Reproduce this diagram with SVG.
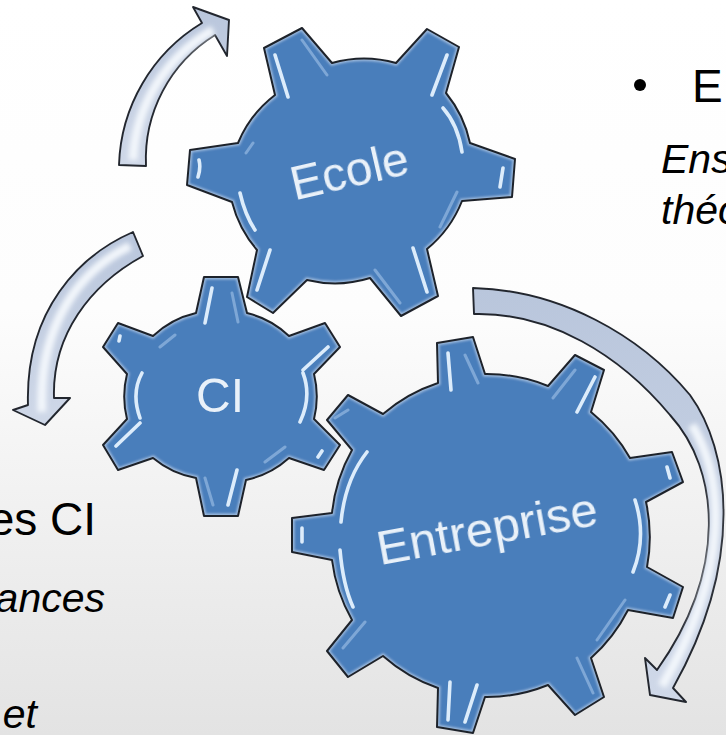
<svg xmlns="http://www.w3.org/2000/svg" xmlns:xlink="http://www.w3.org/1999/xlink" width="726" height="735" viewBox="0 0 726 735">
<style>
.gear{fill:#4a7ebb}
.rim{fill:none;stroke:#9fbbdd;stroke-width:5}
.edge{fill:none;stroke:#1f232b;stroke-width:2;stroke-linejoin:round}
.hl{fill:none;stroke:#dcecfb;stroke-width:3.6;stroke-linecap:round}
.dim{fill:none;stroke:#7ea7d6;stroke-width:3;stroke-linecap:round}
.gt{font-family:"Liberation Sans",Arial,sans-serif;font-size:48px;fill:#e9f1f9;text-anchor:middle}
.bt{font-family:"Liberation Sans",Arial,sans-serif;font-size:46px;fill:#000}
.it{font-family:"Liberation Sans",Arial,sans-serif;font-size:41px;font-style:italic;fill:#000}
.arrow{stroke:#23272f;stroke-width:1.9;stroke-linejoin:round}
.glow{fill:none;stroke:#f2f6fb;stroke-width:9;stroke-linecap:butt}
</style>
<defs>
<linearGradient id="bg" x1="0" y1="0" x2="0" y2="1">
<stop offset="0" stop-color="#ffffff"/><stop offset="0.42" stop-color="#fdfdfd"/><stop offset="1" stop-color="#e3e3e3"/>
</linearGradient>
<linearGradient id="arr" x1="0" y1="0" x2="0" y2="1">
<stop offset="0" stop-color="#b9c6dc"/><stop offset="1" stop-color="#cfd8e8"/>
</linearGradient>
<filter id="b1" x="-5%" y="-5%" width="110%" height="110%"><feGaussianBlur stdDeviation="0.6"/></filter>
<filter id="b2" x="-10%" y="-10%" width="120%" height="120%"><feGaussianBlur stdDeviation="1.2"/></filter>
<filter id="b3" x="-30%" y="-30%" width="160%" height="160%"><feGaussianBlur stdDeviation="2.4"/></filter>
<filter id="bt" x="-5%" y="-20%" width="110%" height="140%"><feGaussianBlur stdDeviation="0.35"/></filter>
<path id="pE" d="M264 48L302 28L332 63A118 118 0 0 1 396 63L427 29L459 47L446 93A118 118 0 0 1 470 143L515 159L512 197L462 201A118 118 0 0 1 427 249L438 296L401 316L370 278A118 118 0 0 1 307 280L273 313L247 297L257 250A118 118 0 0 1 232 202L187 185L190 150L238 143A118 118 0 0 1 275 95Z"/>
<path id="pC" d="M204 277L238 277L247 313A93 93 0 0 1 289 336L325 323L340 347L314 374A93 93 0 0 1 314 419L340 445L324 470L289 458A93 93 0 0 1 246 480L238 516L204 516L196 478A93 93 0 0 1 153 458L118 470L103 445L127 419A93 93 0 0 1 127 374L103 347L118 323L153 336A93 93 0 0 1 196 313Z"/>
<path id="pN" d="M437 343L473 337L485 374A162 162 0 0 1 548 386L575 355L604 370L591 412A162 162 0 0 1 630 458L672 452L683 482L646 502A162 162 0 0 1 647 567L683 587L673 618L628 610A162 162 0 0 1 591 658L604 697L575 715L548 685A162 162 0 0 1 485 697L473 733L437 727L438 688A162 162 0 0 1 383 656L348 677L327 651L352 620A162 162 0 0 1 332 560L292 552L292 518L332 513A162 162 0 0 1 352 450L327 420L348 395L383 414A162 162 0 0 1 438 383Z"/>
<clipPath id="cE"><use xlink:href="#pE"/></clipPath>
<clipPath id="cC"><use xlink:href="#pC"/></clipPath>
<clipPath id="cN"><use xlink:href="#pN"/></clipPath>
</defs>
<rect width="726" height="735" fill="url(#bg)"/>

<g id="connectors">
<g id="arrow-top">
<path class="arrow" fill="url(#arr)" filter="url(#b1)" d="M119 165A172 172 0 0 1 202 23L193 7L229 20L227 56L215 35A146 146 0 0 0 146 166Z"/>
<path class="glow" filter="url(#b3)" d="M133 160A158 158 0 0 1 213 30"/>
</g>
<g id="arrow-left">
<path class="arrow" fill="url(#arr)" filter="url(#b1)" d="M133 232C80 255 25 310 28 405L13 410L45 425L70 398L54 398C52 335 90 285 143 256Z"/>
<path class="glow" filter="url(#b3)" d="M130 246C80 270 38 325 42 412"/>
</g>
<g id="arrow-right">
<path class="arrow" fill="url(#arr)" filter="url(#b1)" d="M473 288C560 290 640 335 690 395C730 450 745 560 673 688L686 702L650 695L645 658L657 670C728 570 720 470 670 415C620 355 550 312 474 314Z"/>
<path class="glow" filter="url(#b3)" d="M692 425C725 480 730 570 662 686" stroke-width="8"/>
</g>
</g>

<g id="node-ecole">
<g filter="url(#b1)">
<use xlink:href="#pE" class="gear"/>
<g clip-path="url(#cE)"><use xlink:href="#pE" class="rim" filter="url(#b2)"/></g>
<use xlink:href="#pE" class="edge"/>
</g>
<g filter="url(#b1)">
<path class="dim" d="M302 40L327 75M375 270L400 303M457 192L440 227M246 153L253 143"/>
<path class="hl" d="M275 55L288 97M199 160Q201 168 198 177M240 193Q245 215 255 230M270 250L257 290M447 55L432 95M443 108Q458 125 462 152M503 168L500 187M413 248L427 292"/>
</g>
<text class="gt" filter="url(#bt)" transform="translate(353 187) rotate(-13)">Ecole</text>
</g>

<g id="node-ci">
<g filter="url(#b1)">
<use xlink:href="#pC" class="gear"/>
<g clip-path="url(#cC)"><use xlink:href="#pC" class="rim" filter="url(#b2)"/></g>
<use xlink:href="#pC" class="edge"/>
</g>
<g filter="url(#b1)">
<path class="dim" d="M232 293L238 322M205 478L213 505M285 447L265 462M160 347L175 335"/>
<path class="hl" d="M212 288L205 323M142 373Q131 393 140 418M140 423L116 446M237 470L228 505M328 347L303 370M303 373Q312 397 300 422M120 336L119 341M322 451L318 457"/>
</g>
<text class="gt" filter="url(#bt)" x="220" y="412">CI</text>
</g>

<g id="node-entreprise">
<g filter="url(#b1)">
<use xlink:href="#pN" class="gear"/>
<g clip-path="url(#cN)"><use xlink:href="#pN" class="rim" filter="url(#b2)"/></g>
<use xlink:href="#pN" class="edge"/>
</g>
<g filter="url(#b1)">
<path class="dim" d="M465 355L478 383M575 370L553 398M625 600L597 640M577 658L593 693M365 622L343 648M348 410L335 418"/>
<path class="hl" d="M448 353L451 390M595 377L577 412M667 467L670 478M635 500Q647 537 633 572M670 595L665 607M450 682L448 720M477 685L465 722M367 452Q345 480 341 522M302 528L302 542M340 550Q343 585 353 607"/>
</g>
<text class="gt" filter="url(#bt)" style="font-size:49px" transform="translate(490 545) rotate(-10.4)">Entreprise</text>
</g>

<g id="text-right">
<circle cx="640" cy="85" r="6" fill="#000"/>
<text class="bt" x="692" y="102">E</text>
<text class="it" x="661" y="173">Ens</text>
<text class="it" x="661" y="224">théo</text>
</g>
<g id="text-left">
<text class="bt" x="96" y="535" text-anchor="end">es CI</text>
<text class="it" x="105" y="612" text-anchor="end">ances</text>
<text class="it" x="37" y="728" text-anchor="end">et</text>
</g>
</svg>
